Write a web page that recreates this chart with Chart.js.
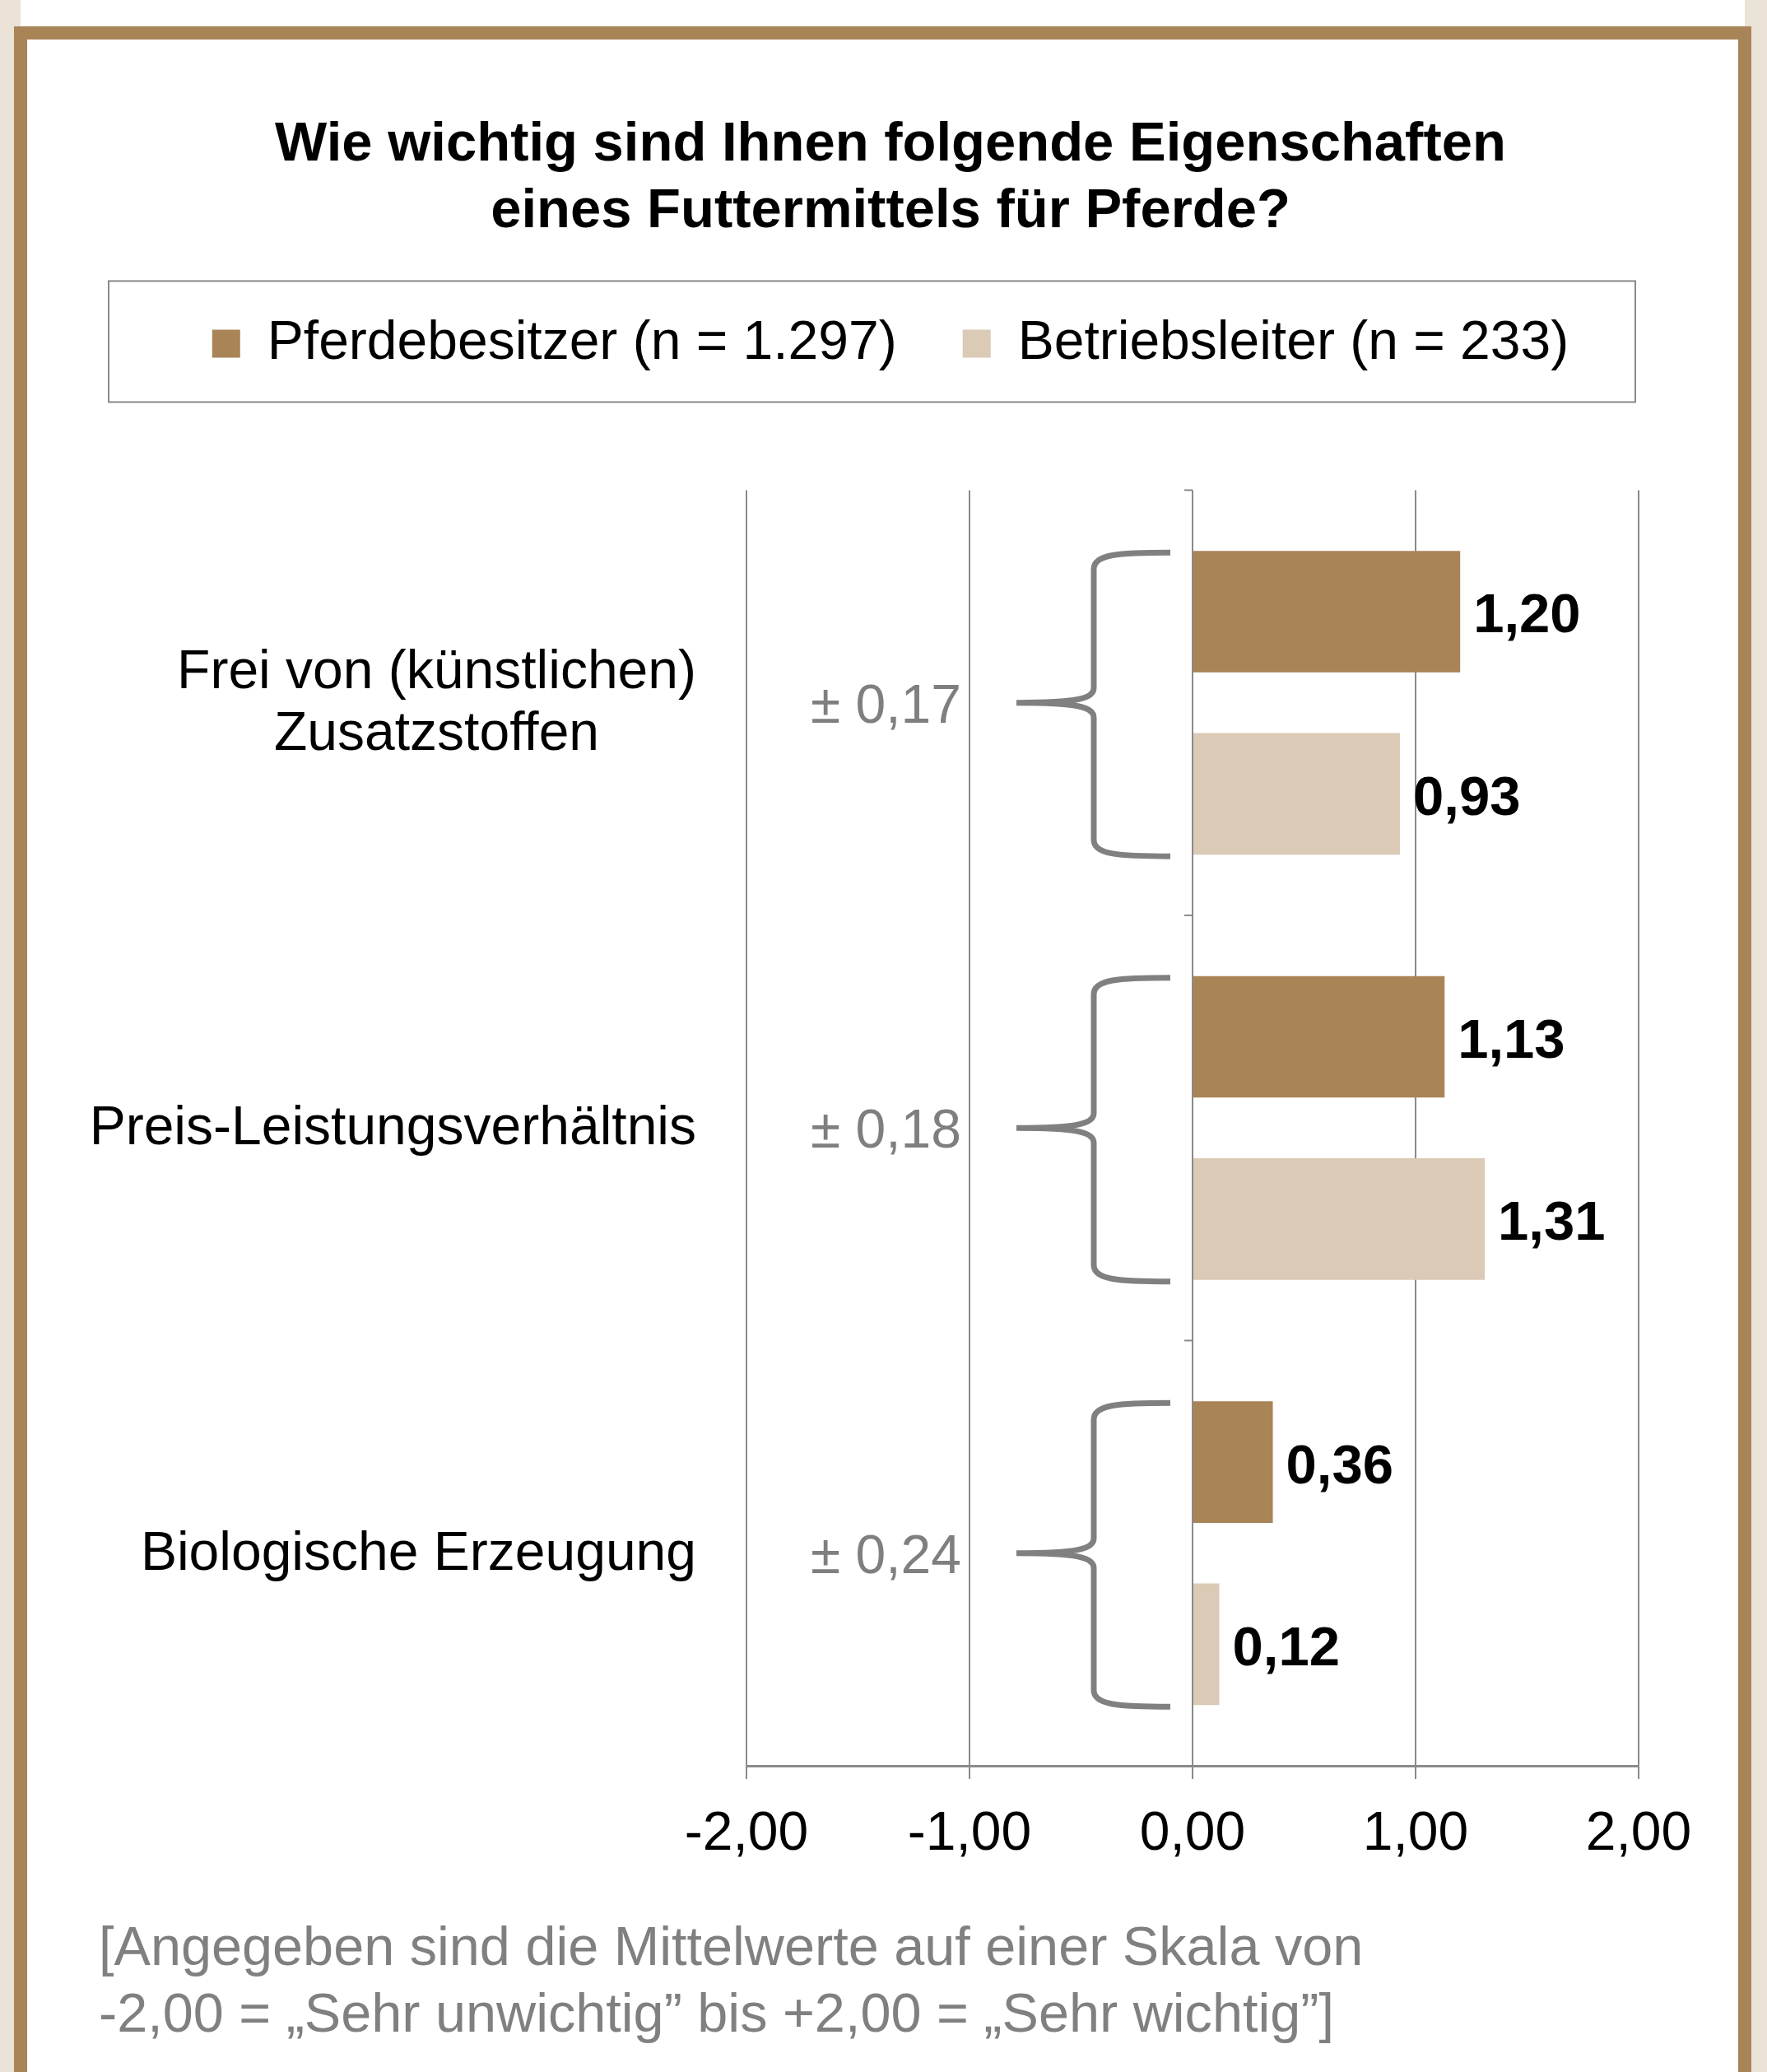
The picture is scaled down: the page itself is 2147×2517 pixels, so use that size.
<!DOCTYPE html>
<html>
<head>
<meta charset="utf-8">
<script src="https://cdn.jsdelivr.net/npm/chart.js@4.4.0/dist/chart.umd.min.js"></script>
<style>
  html, body { margin: 0; padding: 0; }
  body { width: 2147px; height: 2517px; background: #ebe2d8; position: relative; overflow: hidden; font-family: "Liberation Sans", Arial, sans-serif; }
  #topstrip { position: absolute; left: 25px; top: 0; width: 2095px; height: 32px; background: #fff; }
  #frame { position: absolute; left: 17px; top: 32px; width: 2079px; height: 2600px; border: 16px solid #a98457; border-bottom: none; background: #fff; }
  #wrap { position: absolute; left: 33px; top: 48px; width: 2079px; height: 2250px; }
  #note { position: absolute; left: 120px; top: 2324px; font-size: 66.6px; line-height: 81px; color: #808080; white-space: nowrap; }
</style>
</head>
<body>
<div id="topstrip"></div>
<div id="frame"></div>
<div id="wrap"><canvas id="chart"></canvas></div>
<div id="note">[Angegeben sind die Mittelwerte auf einer Skala von<br>-2,00 = „Sehr unwichtig” bis +2,00 = „Sehr wichtig”]</div>
<script>
const categories = [['Frei von (künstlichen)', 'Zusatzstoffen'], 'Preis-Leistungsverhältnis', 'Biologische Erzeugung'];
const seriesNames = ['Pferdebesitzer (n = 1.297)', 'Betriebsleiter (n = 233)'];
const pferdebesitzer = [1.20, 1.13, 0.36];
const betriebsleiter = [0.93, 1.31, 0.12];
const deviation = ['± 0,17', '± 0,18', '± 0,24'];
const xTicks = [-2, -1, 0, 1, 2];
const colors = ['#a98457', '#dbcab5'];

const FONT = '"Liberation Sans", Arial, sans-serif';
const GRID = '#8a8a8a';
Chart.defaults.font.family = FONT;

const fmt = v => v.toFixed(2).replace('.', ',');

function brace(ctx, xe, xv, xt, t, b, m) {
  ctx.beginPath();
  ctx.moveTo(xe, t);
  ctx.bezierCurveTo(xv + 30, t, xv, t + 2, xv, t + 20);
  ctx.lineTo(xv, m - 18);
  ctx.bezierCurveTo(xv, m - 5, xv - 20, m, xt, m);
  ctx.bezierCurveTo(xv - 20, m, xv, m + 5, xv, m + 18);
  ctx.lineTo(xv, b - 20);
  ctx.bezierCurveTo(xv, b - 2, xv + 30, b, xe, b);
  ctx.stroke();
}

const extras = {
  id: 'extras',
  afterDraw(chart) {
    const { ctx, chartArea, scales: { x, y } } = chart;
    const x0 = x.getPixelForValue(0);
    ctx.save();

    // frame round the legend
    const hb = chart.legend.legendHitBoxes[0];
    const lc = hb.top + hb.height / 2;
    ctx.strokeStyle = GRID;
    ctx.lineWidth = 2;
    ctx.strokeRect(99, lc - 76, 1855, 147);

    // small ticks on the zero axis between categories
    const band = (chartArea.bottom - chartArea.top) / categories.length;
    for (let i = 0; i <= categories.length; i++) {
      const yy = chartArea.top + i * band;
      ctx.beginPath();
      ctx.moveTo(x0 - 10, yy);
      ctx.lineTo(x0, yy);
      ctx.stroke();
    }

    // category labels, lines centred inside each block
    ctx.font = '66px ' + FONT;
    ctx.textBaseline = 'middle';
    ctx.textAlign = 'center';
    ctx.fillStyle = '#000';
    chart.data.labels.forEach((lab, i) => {
      const lines = [].concat(lab);
      const w = Math.max(...lines.map(l => ctx.measureText(l).width));
      const cx = chartArea.left - 61 - w / 2;
      const yc = y.getPixelForValue(i);
      lines.forEach((l, j) => ctx.fillText(l, cx, yc + 2 + (j - (lines.length - 1) / 2) * 75));
    });

    // deviation texts and braces
    const m0 = chart.getDatasetMeta(0).data;
    const m1 = chart.getDatasetMeta(1).data;
    ctx.textAlign = 'right';
    ctx.fillStyle = '#7f7f7f';
    ctx.strokeStyle = '#808080';
    ctx.lineWidth = 7;
    deviation.forEach((txt, i) => {
      const yc = y.getPixelForValue(i);
      ctx.fillText(txt, x0 - 281, yc + 6);
      const top = m0[i].y - m0[i].height / 2 + 2;
      const bot = m1[i].y + m1[i].height / 2 + 2;
      brace(ctx, x0 - 27, x0 - 120, x0 - 214, top, bot, yc);
    });

    // value labels
    ctx.font = 'bold 67px ' + FONT;
    ctx.textAlign = 'left';
    ctx.fillStyle = '#000';
    chart.data.datasets.forEach((ds, d) => {
      chart.getDatasetMeta(d).data.forEach((bar, i) => {
        ctx.fillText(fmt(ds.data[i]), bar.x + 16, bar.y + 7);
      });
    });
    ctx.restore();
  }
};

new Chart(document.getElementById('chart'), {
  type: 'bar',
  data: {
    labels: categories,
    datasets: [
      { label: seriesNames[0], data: pferdebesitzer, backgroundColor: colors[0] },
      { label: seriesNames[1], data: betriebsleiter, backgroundColor: colors[1] }
    ]
  },
  options: {
    indexAxis: 'y',
    responsive: true,
    maintainAspectRatio: false,
    animation: false,
    devicePixelRatio: 1,
    categoryPercentage: 0.857,
    barPercentage: 0.667,
    layout: { padding: { left: 140, right: 121, top: 0, bottom: 13 } },
    scales: {
      x: {
        min: -2,
        max: 2,
        afterBuildTicks: s => { s.ticks = xTicks.map(v => ({ value: v })); },
        grid: { color: GRID, lineWidth: 2, tickLength: 16 },
        border: { color: GRID, width: 3 },
        ticks: { color: '#000', font: { size: 66 }, padding: 28, callback: v => fmt(v) },
        afterFit: s => { s.height = 140; }
      },
      xTop: {
        type: 'linear',
        axis: 'x',
        position: 'top',
        grid: { display: false },
        border: { display: false },
        ticks: { display: false },
        afterFit: s => { s.height = 135; }
      },
      y: {
        grid: { display: false },
        border: { display: false },
        ticks: { display: false },
        afterFit: s => { s.width = 734; }
      }
    },
    plugins: {
      title: {
        display: true,
        text: ['Wie wichtig sind Ihnen folgende Eigenschaften', 'eines Futtermittels für Pferde?'],
        color: '#000',
        font: { size: 67, weight: 'bold', lineHeight: 1.212 },
        padding: { top: 88, bottom: 6 }
      },
      legend: {
        labels: { boxWidth: 34, boxHeight: 34, padding: 80, color: '#000', font: { size: 66 } }
      },
      tooltip: { enabled: false }
    }
  },
  plugins: [extras]
});
</script>
</body>
</html>
